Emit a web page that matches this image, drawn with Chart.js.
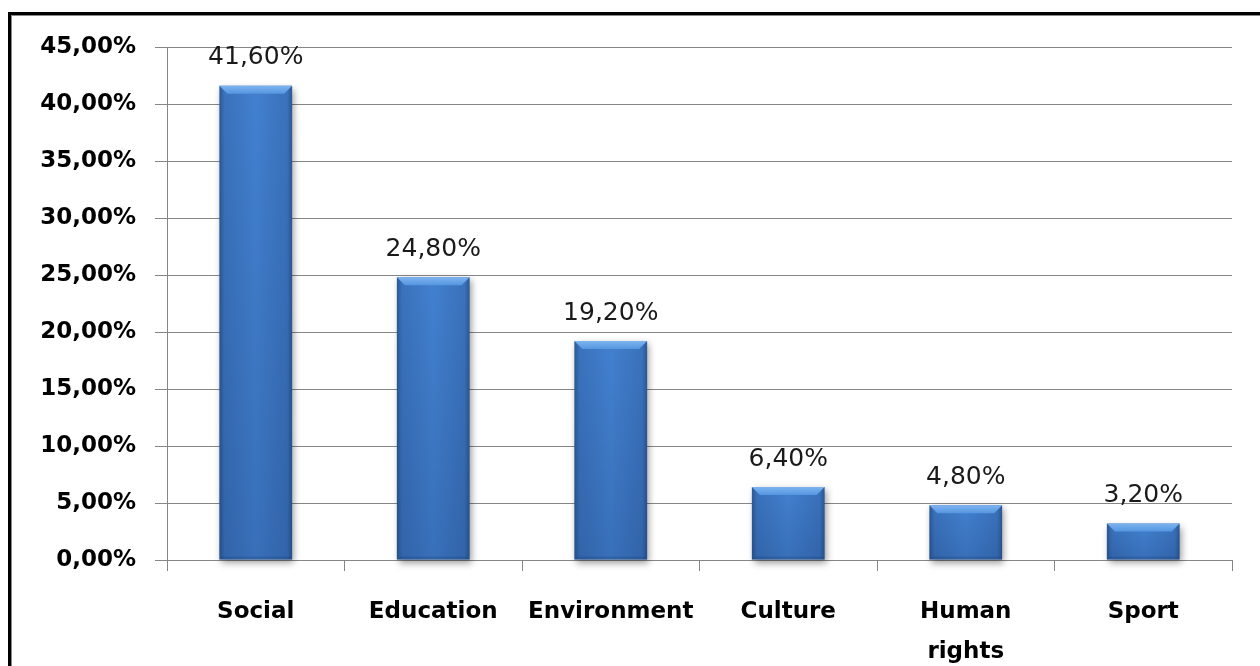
<!DOCTYPE html>
<html>
<head>
<meta charset="utf-8">
<script src="https://cdn.jsdelivr.net/npm/chart.js@4"></script>
<style>
  body { margin:0; background:#fff; overflow:hidden; }
  #wrap { position:relative; width:1260px; height:666px; }
  #frame { position:absolute; left:8px; top:12px; width:1400px; height:800px;
           border-left:3px solid #000; border-top:3px solid #000; pointer-events:none; }
  #frame div { width:100%; height:100%; border-left:1px solid #8a8a8a; border-top:1px solid #8a8a8a; }
  canvas { position:absolute; left:0; top:0; }
</style>
</head>
<body>
<div id="wrap">
  <canvas id="myChart" width="1260" height="666"></canvas>
  <div id="frame"><div></div></div>
</div>
<script>
const categories = ["Social", "Education", "Environment", "Culture", ["Human", "rights"], "Sport"];
const values = [41.6, 24.8, 19.2, 6.4, 4.8, 3.2];
const yMin = 0, yMax = 45, yStep = 5;

function pct(v){
    return v.toFixed(2).replace('.', ',') + '%';
}

// draws the bevelled blue bars + value labels
const barPainter = {
    id : 'barPainter',
    afterDatasetsDraw(chart){
        const ctx = chart.ctx;
        const meta = chart.getDatasetMeta(0);
        meta.data.forEach((bar, i) => {
            const w = bar.width;
            const l = bar.x - w/2, r = bar.x + w/2;
            const t = bar.y, b = bar.base;
            const h = b - t;

            ctx.save();
            ctx.shadowColor = 'rgba(0,0,0,0.4)';
            ctx.shadowBlur = 7;
            ctx.shadowOffsetX = 2;
            ctx.shadowOffsetY = 3;
            const g = ctx.createLinearGradient(l, 0, r, 0);
            g.addColorStop(0, '#2a5894');
            g.addColorStop(0.07, '#3a72bc');
            g.addColorStop(0.5, '#4280cf');
            g.addColorStop(0.93, '#3a72bc');
            g.addColorStop(1, '#2a5894');
            ctx.fillStyle = g;
            ctx.fillRect(l, t, w, h);
            ctx.restore();

            // vertical darkening toward the bottom
            ctx.save();
            const gv = ctx.createLinearGradient(0, t, 0, b);
            gv.addColorStop(0, 'rgba(0,20,60,0)');
            gv.addColorStop(1, 'rgba(0,20,60,0.15)');
            ctx.fillStyle = gv;
            ctx.fillRect(l, t, w, h);

            // top bevel
            const bv = Math.min(8, h/3);
            const gt = ctx.createLinearGradient(0, t, 0, t + bv);
            gt.addColorStop(0, '#7db4f0');
            gt.addColorStop(1, '#5595e0');
            ctx.fillStyle = gt;
            ctx.beginPath();
            ctx.moveTo(l, t);
            ctx.lineTo(r, t);
            ctx.lineTo(r - bv, t + bv);
            ctx.lineTo(l + bv, t + bv);
            ctx.closePath();
            ctx.fill();

            // bottom bevel
            ctx.fillStyle = 'rgba(20,50,100,0.2)';
            ctx.beginPath();
            ctx.moveTo(l, b);
            ctx.lineTo(r, b);
            ctx.lineTo(r - 3, b - 3);
            ctx.lineTo(l + 3, b - 3);
            ctx.closePath();
            ctx.fill();

            ctx.fillStyle = '#1a1a1a';
            ctx.font = '25px "DejaVu Sans"';
            ctx.textAlign = 'center';
            ctx.textBaseline = 'middle';
            ctx.fillText(pct(values[i]), bar.x, t - 28);
            ctx.restore();
        });
    }
};

const ctx = document.getElementById('myChart');
const chart = new Chart(ctx, {
    type : 'bar',
    data : {
        labels : categories,
        datasets : [{
            data : values,
            backgroundColor : 'rgba(0,0,0,0)',
            categoryPercentage : 1,
            barPercentage : 0.41
        }]
    },
    options : {
        responsive : false,
        animation : false,
        events : [],
        layout : { padding : { left : 0, right : 28, top : 47, bottom : 0 } },
        plugins : { legend : { display:false }, tooltip : { enabled:false } },
        scales : {
            x : {
                grid : { drawOnChartArea:false, offset:true, tickLength:11, color:'#868686' },
                border : { display:false },
                ticks : {
                    color : '#000',
                    font : { family:'"DejaVu Sans"', size:23, weight:'bold', lineHeight:1.75 },
                    padding : 21,
                    maxRotation : 0,
                    autoSkip : false
                },
                afterFit(scale){ scale.height = 106; }
            },
            y : {
                min : yMin, max : yMax,
                grid : { color:'#868686', tickLength:12 },
                border : { color:'#868686' },
                ticks : {
                    stepSize : yStep,
                    color : '#000',
                    font : { family:'"DejaVu Sans"', size:23, weight:'bold' },
                    padding : 19,
                    callback : v => pct(v)
                },
                afterFit(scale){ scale.width = 167; }
            }
        }
    },
    plugins : [barPainter]
});
</script>
</body>
</html>
